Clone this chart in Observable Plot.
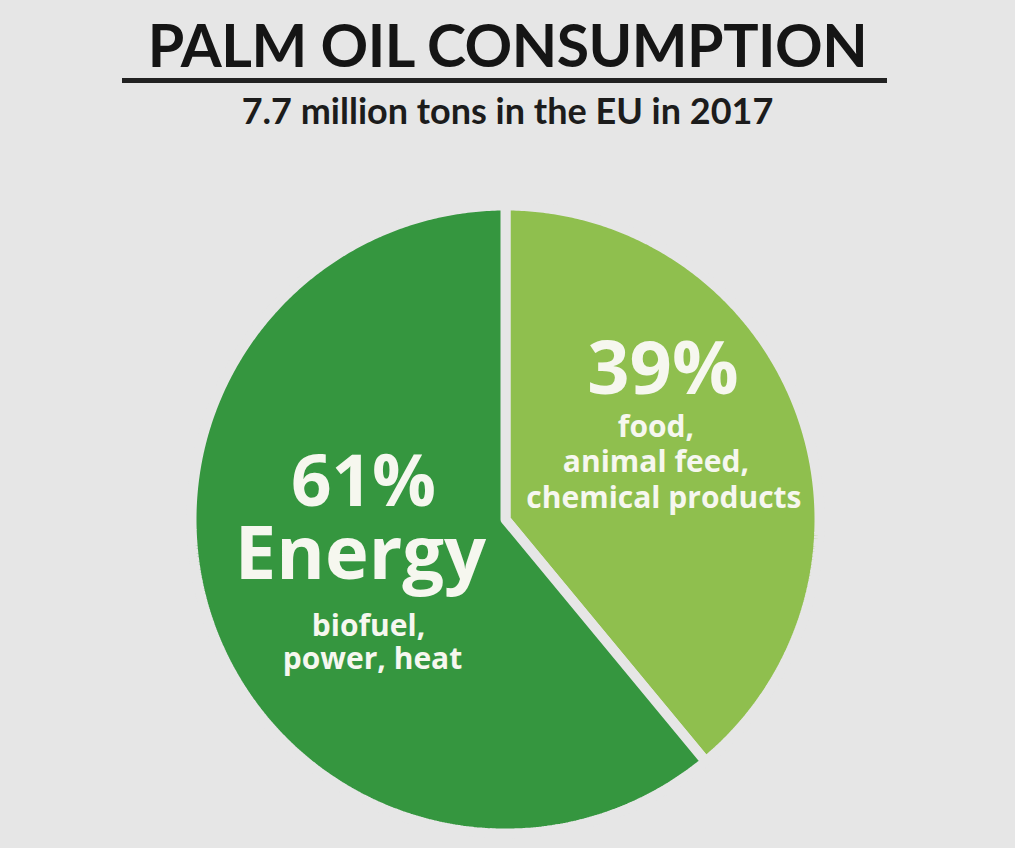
<!DOCTYPE html>
<html>
<head>
<meta charset="utf-8">
<script src="https://cdn.jsdelivr.net/npm/d3@7"></script>
<script src="https://cdn.jsdelivr.net/npm/@observablehq/plot@0.6"></script>
<style>
  html, body { margin: 0; padding: 0; background: #e6e6e6; }
  body { width: 1015px; height: 848px; position: relative; overflow: hidden; font-family: Lato, "Open Sans", sans-serif; }
  #header { position: relative; width: 1015px; height: 140px; }
  #title { position: absolute; left: 0; width: 1015px; top: 15px; text-align: center; font-weight: 700; font-size: 59px; line-height: 59px; color: #151515; letter-spacing: -0.5px; }
  #rule { position: absolute; left: 122px; width: 765px; top: 78px; height: 5px; background: #222; }
  #subtitle { position: absolute; left: 0; width: 1015px; top: 92px; text-align: center; font-weight: 700; font-size: 36px; line-height: 36px; color: #1c1c1c; }
  #chart { position: absolute; left: 0; top: 140px; }
</style>
</head>
<body>
<div id="header">
  <div id="title">PALM OIL CONSUMPTION</div>
  <div id="rule"></div>
  <div id="subtitle">7.7 million tons in the EU in 2017</div>
</div>
<div id="chart"></div>
<script>
// ---- data ----
const categories = ["Other uses", "Energy"];
const shares = [39, 61];
const percentLabels = ["39%", "61%"];
const headings = ["", "Energy"];
const descriptions = [["food,", "animal feed,", "chemical products"], ["biofuel,", "power, heat"]];
const colors = ["#8fbf4e", "#35963f"];

// ---- layout ----
const W = 1015, H = 708;
const cx = 505, cy = 379;          // pie centre in pixels inside the svg
const R = 314;                      // radius (stroke eats half the gap)
const total = d3.sum(shares);

// slices as polygons in a pixel-unit coordinate system centred on the pie
const slicePoints = [];
let acc = 0;
const sliceInfo = categories.map((c, i) => {
  const a0 = acc / total * 2 * Math.PI;
  acc += shares[i];
  const a1 = acc / total * 2 * Math.PI;
  const pts = [{category: c, x: 0, y: 0}];
  const n = Math.max(2, Math.ceil((a1 - a0) / (Math.PI / 360)));
  for (let k = 0; k <= n; k++) {
    const a = a0 + (a1 - a0) * k / n;
    pts.push({category: c, x: R * Math.sin(a), y: R * Math.cos(a)});
  }
  pts.push({category: c, x: 0, y: 0});
  slicePoints.push(...pts);
  return {category: c, mid: (a0 + a1) / 2};
});

// label lines, anchored on each slice's mid-angle; offsets in pixels (dx right, dy down)
const labelRadius = [0.55, 0.48];
const lines = [];
sliceInfo.forEach((s, i) => {
  const r = labelRadius[i] * 310;
  const ax = r * Math.sin(s.mid), ay = r * Math.cos(s.mid);
  const add = (text, dx, dy, size) => lines.push({x: ax + dx, y: ay - dy, text, size});
  if (i === 0) {
    add(percentLabels[i], -3, -68, 74);
    const offs = [[-10, -25], [-10, 10], [-2, 46]];
    descriptions[i].forEach((t, j) => add(t, offs[j][0], offs[j][1], 30));
  } else {
    add(percentLabels[i], -2, -64, 71);
    add(headings[i], -5, 9, 74);
    const offs = [[3, 66], [7, 99]];
    descriptions[i].forEach((t, j) => add(t, offs[j][0], offs[j][1], 30));
  }
});

const chart = Plot.plot({
  width: W,
  height: H,
  margin: 0,
  style: {background: "transparent", overflow: "visible"},
  x: {domain: [-cx, W - cx], axis: null},
  y: {domain: [cy - H, cy], axis: null},
  color: {domain: categories, range: colors},
  marks: [
    Plot.line(slicePoints, {
      x: "x", y: "y", z: "category",
      fill: "category",
      stroke: "#e6e6e6",
      strokeWidth: 10,
      strokeLinejoin: "miter",
      curve: "linear"
    }),
    ...[74, 71, 30].map(sz => Plot.text(lines.filter(d => d.size === sz), {
      x: "x", y: "y", text: "text",
      fill: "#f6f7ef",
      fontSize: sz,
      fontWeight: 700,
      fontFamily: "'Open Sans', sans-serif",
      lineAnchor: "bottom"
    }))
  ]
});
document.getElementById("chart").appendChild(chart);
</script>
</body>
</html>
